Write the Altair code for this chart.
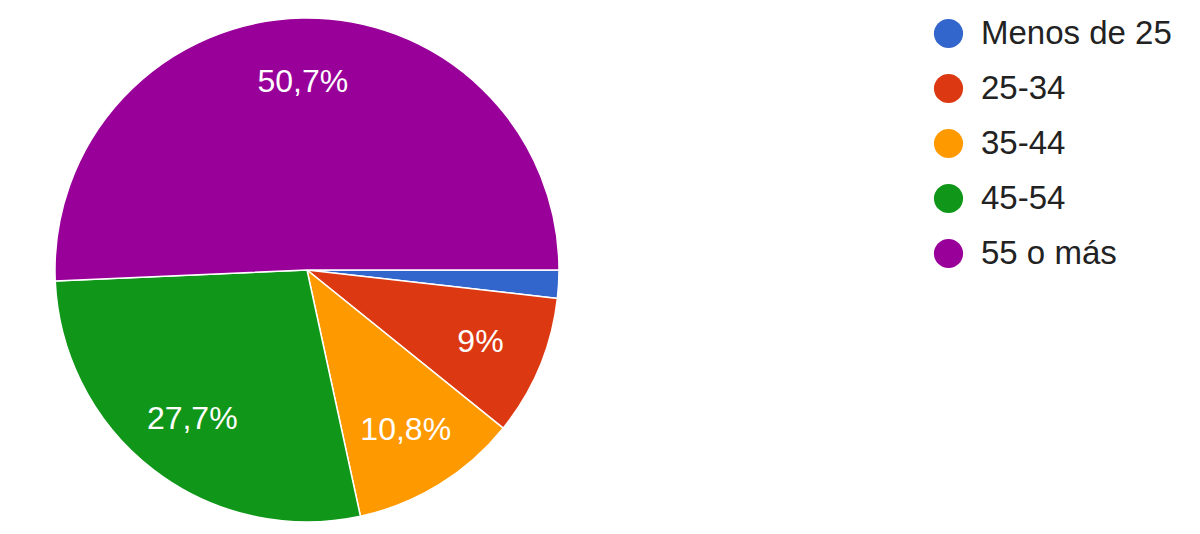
import math
import altair as alt
import pandas as pd

categories = ["Menos de 25", "25-34", "35-44", "45-54", "55 o más"]
values = [1.8, 9.0, 10.8, 27.7, 50.7]
labels = ["", "9%", "10,8%", "27,7%", "50,7%"]
colors = ["#3366cc", "#dc3912", "#ff9900", "#109618", "#990099"]

df = pd.DataFrame({
    "cat": categories,
    "val": values,
    "lbl": labels,
    "ord": list(range(len(categories))),
})

CX, CY, R = 299, 262, 252

theta = alt.Theta("val:Q", stack=True,
                  scale=alt.Scale(range=[math.pi / 2, math.pi / 2 + 2 * math.pi]))

base = alt.Chart(df).encode(
    theta=theta,
    order=alt.Order("ord:Q"),
)

pie = base.mark_arc(radius=R, stroke="white", strokeWidth=1.5).encode(
    x=alt.value(CX),
    y=alt.value(CY),
    color=alt.Color(
        "cat:N",
        scale=alt.Scale(domain=categories, range=colors),
        sort=categories,
        legend=alt.Legend(
            title=None,
            orient="none",
            legendX=924,
            legendY=9,
            symbolType="circle",
            symbolSize=850,
            symbolStrokeWidth=0,
            symbolOpacity=1,
            labelFont="Liberation Sans",
            labelFontSize=33,
            labelColor="#222222",
            labelOffset=16,
            rowPadding=21,
            padding=0,
            labelLimit=400,
        ),
    ),
)

text = base.mark_text(radius=188, font="Liberation Sans", fontSize=32,
                      color="white", align="center", baseline="middle").encode(
    x=alt.value(CX),
    y=alt.value(CY),
    text="lbl:N",
)

chart = alt.layer(pie, text).properties(
    width=1184, height=518, padding=0,
).configure_view(stroke=None)

chart.save("out.html", embed_options={"renderer": "svg", "actions": False})
